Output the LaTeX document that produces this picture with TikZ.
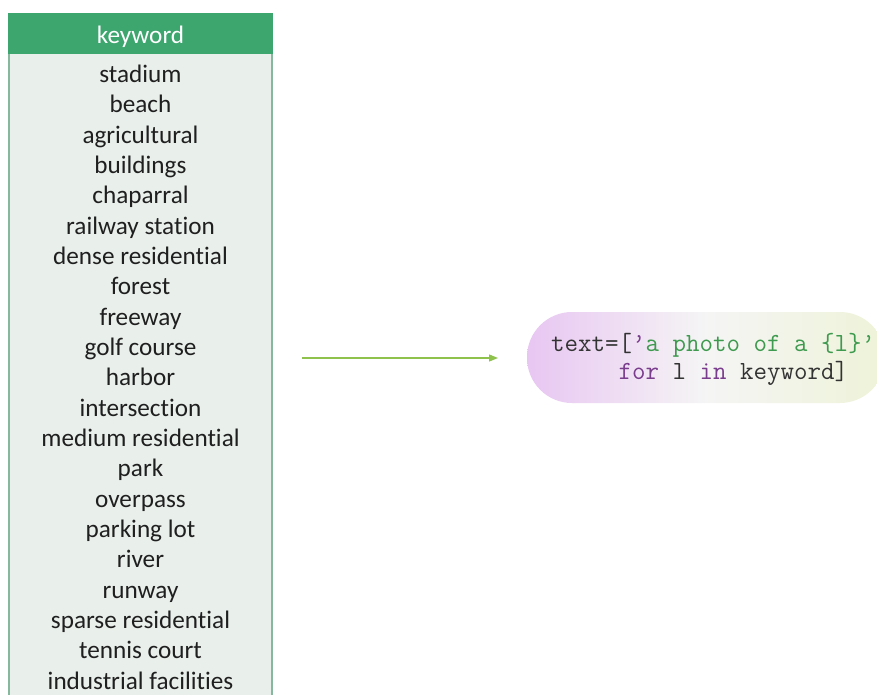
\documentclass[tikz,border=0pt]{standalone}
\usepackage{fontspec}
\setmainfont{Carlito}[Ligatures={TeX,NoCommon}]
\usetikzlibrary{arrows.meta}
\definecolor{hdrgreen}{HTML}{3DA66F}
\definecolor{bodyfill}{HTML}{E9EFEB}
\definecolor{bodyline}{HTML}{86B89D}
\definecolor{arrowgreen}{HTML}{8FC24C}
\definecolor{strgreen}{HTML}{3E9A4E}
\definecolor{kwpurple}{HTML}{7A3C8C}
\definecolor{codedark}{HTML}{333333}
\definecolor{pillleft}{HTML}{E8C6F2}
\definecolor{pillright}{HTML}{EEF3D8}
\begin{document}
\begin{tikzpicture}[x=1pt,y=-1pt,
  item/.style={font=\fontsize{25.2}{25}\selectfont, text=black!88, anchor=base},
  codeline/.style={anchor=base west, inner sep=0pt, font=\ttfamily\fontsize{26.2}{28}\selectfont},
  flow/.style={draw=arrowgreen, line width=1.3pt, -{Triangle[length=9pt,width=7pt]}}]
\useasboundingbox (0,0) rectangle (877,694);
\begin{scope}
\clip (0,0) rectangle (877,694);
% keyword table
\fill[bodyfill] (8,54) rectangle (273,720);
\draw[bodyline, line width=1.6pt] (8.8,54) -- (8.8,720);
\draw[bodyline, line width=1.6pt] (272.2,54) -- (272.2,720);
\fill[hdrgreen] (8,13) rectangle (273,54);
% code pill
\shade[left color=pillleft, right color=pillright, middle color=black!4!white, rounded corners=45pt]
  (527,312) rectangle (885,403);
\end{scope}
\node[font=\fontsize{25.2}{25}\selectfont, text=white, anchor=base] (hdr) at (140.5,43) {keyword};
\foreach \w [count=\i from 0] in {stadium,beach,agricultural,buildings,chaparral,railway station,dense residential,forest,freeway,golf course,harbor,intersection,medium residential,park,overpass,parking lot,river,runway,sparse residential,tennis court,industrial facilities}
  \node[item] (k\i) at (140.5,82.5+30.33*\i) {\w};
\node[codeline] (code) at (551,351)
  {\textcolor{codedark}{text=[}\textcolor{kwpurple}{\textquoteright}\textcolor{strgreen}{a photo of a \{l\}\textquoteright}};
\node[codeline] (code2) at (551,379)
  {\phantom{text=}\textcolor{kwpurple}{for} \textcolor{codedark}{l} \textcolor{kwpurple}{in} \textcolor{codedark}{keyword]}};
\coordinate (a0) at (302,358);
\coordinate (a1) at (498,358);
\draw[flow] (a0) -- (a1);
\end{tikzpicture}
\end{document}
